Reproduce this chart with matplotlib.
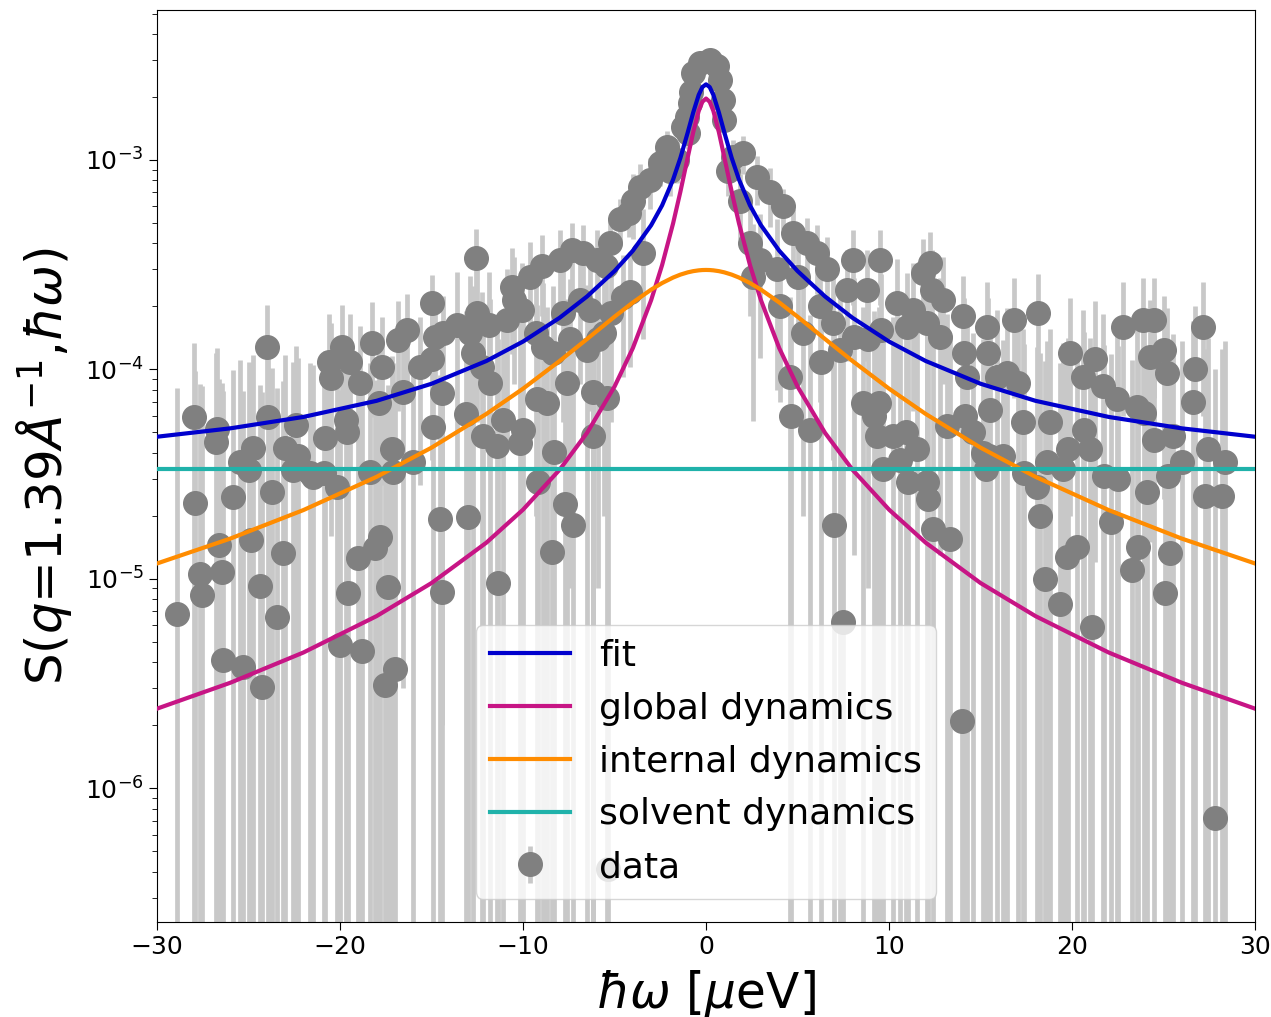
import numpy as np
import matplotlib
matplotlib.use('Agg')
import matplotlib.pyplot as plt

# measured points (energy transfer in micro-eV, S(q,w))
data_x = [-28.9, -28.0, -27.9, -27.65, -27.55, -26.8, -26.7, -26.6, -26.45, -26.4,
          -25.85, -25.45, -25.3, -24.95, -24.85, -24.75, -24.35, -24.25, -24.0, -23.95,
          -23.7, -23.45, -23.1, -23.0, -22.55, -22.4, -22.3, -21.65, -21.5, -20.9,
          -20.8, -20.6, -20.5, -20.15, -20.0, -19.9, -19.65, -19.6, -19.55, -19.45,
          -19.0, -18.9, -18.8, -18.35, -18.25, -18.1, -17.85, -17.8, -17.7, -17.55,
          -17.4, -17.15, -17.1, -17.0, -16.85, -16.55, -16.35, -16.0, -15.65, -15.0,
          -14.95, -14.9, -14.8, -14.55, -14.45, -14.4, -14.35,
          -13.6, -13.1, -13.0, -12.9, -12.75, -12.55, -12.5, -12.25, -12.2, -11.85,
          -11.8, -11.4, -11.35, -11.1, -10.9, -10.6, -10.5, -10.15, -10.05, -10.0,
          -9.6, -9.3, -9.25, -9.2, -8.95, -8.9, -8.7, -8.4, -8.35, -8.3,
          -8.0, -7.8, -7.7, -7.6, -7.45, -7.3, -7.25, -6.9, -6.7, -6.5,
          -6.35, -6.2, -6.15, -5.95, -5.9, -5.6, -5.45, -5.4, -5.35, -5.25,
          -5.2, -4.7, -4.55, -4.2, -4.15, -4.0, -3.6, -3.45, -3.05, -2.5,
          -2.15, -1.95, -1.6, -1.25, -1.05, -1.0, -0.85, -0.8, -0.7, -0.35,
          0.2, 0.6, 0.75, 0.95, 1.0, 1.2, 1.5, 1.85, 2.0, 2.4,
          2.55, 2.8, 2.95, 3.5, 3.9, 4.05, 4.2, 4.6, 4.65, 4.75,
          5.0, 5.3, 5.5, 5.7, 6.05, 6.25, 6.3, 6.6, 6.95, 7.0,
          7.3, 7.5, 7.7, 8.05, 8.1, 8.6, 8.8, 8.85, 9.15, 9.35,
          9.45, 9.5, 9.55, 9.65, 10.2, 10.45, 10.6, 10.95, 11.0, 11.05,
          11.3, 11.55, 11.85, 12.05, 12.1, 12.15, 12.25, 12.35, 12.4, 12.8,
          12.95, 13.15, 13.35, 14.0, 14.05, 14.1, 14.15, 14.25, 14.6, 15.15,
          15.3, 15.35, 15.4, 15.45, 15.5, 15.9, 16.25, 16.45, 16.8, 17.05,
          17.3, 17.35, 18.1, 18.15, 18.25, 18.5, 18.65, 18.8, 19.35, 19.5,
          19.7, 19.75, 19.9, 20.25, 20.6, 20.65, 21.0, 21.1, 21.25, 21.7,
          21.75, 22.1, 22.45, 22.5, 22.8, 23.3, 23.55, 23.6, 23.9, 23.95,
          24.1, 24.25, 24.45, 24.5, 25.0, 25.05, 25.2, 25.25, 25.35, 25.5,
          26.0, 26.6, 26.7, 27.15, 27.25, 27.45, 27.8, 28.2, 28.35]
data_s = [6.8e-6, 5.9e-5, 2.3e-5, 1.05e-5, 8.4e-6, 4.5e-5, 5.2e-5, 1.45e-5, 1.08e-5, 4.1e-6,
          2.45e-5, 3.6e-5, 3.8e-6, 3.3e-5, 1.53e-5, 4.2e-5, 9.2e-6, 3.05e-6, 1.28e-4, 5.9e-5,
          2.6e-5, 6.6e-6, 1.33e-5, 4.2e-5, 3.3e-5, 5.4e-5, 3.85e-5, 3.2e-5, 3.05e-5, 3.2e-5,
          4.7e-5, 1.08e-4, 9.1e-5, 2.75e-5, 4.85e-6, 1.28e-4, 5.75e-5, 5.0e-5, 8.6e-6, 1.08e-4,
          1.26e-5, 8.6e-5, 4.5e-6, 3.25e-5, 1.34e-4, 1.4e-5, 6.9e-5, 1.58e-5, 1.03e-4, 3.1e-6,
          9.1e-6, 4.15e-5, 3.25e-5, 3.7e-6, 1.38e-4, 7.8e-5, 1.55e-4, 3.6e-5, 1.03e-4, 2.08e-4,
          1.12e-4, 5.3e-5, 1.43e-4, 1.93e-5, 7.7e-5, 8.7e-6, 1.5e-4,
          1.63e-4, 6.1e-5, 1.97e-5, 1.5e-4, 1.2e-4, 3.4e-4, 1.86e-4, 1.03e-4, 4.8e-5, 1.63e-4,
          8.6e-5, 4.3e-5, 9.6e-6, 5.75e-5, 1.73e-4, 2.48e-4, 2.15e-4, 4.45e-5, 1.93e-4, 5.15e-5,
          2.77e-4, 1.5e-4, 7.2e-5, 2.9e-5, 3.1e-4, 1.28e-4, 6.9e-5, 1.35e-5, 1.2e-4, 4.05e-5,
          3.33e-4, 1.86e-4, 2.27e-5, 8.6e-5, 1.39e-4, 3.7e-4, 1.8e-5, 2.15e-4, 3.6e-4, 1.24e-4,
          1.93e-4, 7.8e-5, 4.8e-5, 3.33e-4, 1.39e-4, 1.5e-4, 3.1e-4, 7.3e-5, 4.1e-7, 4.0e-4,
          1.86e-4, 5.2e-4, 2.22e-4, 5.6e-4, 2.33e-4, 6.4e-4, 7.4e-4, 3.6e-4, 8.0e-4, 9.7e-4,
          1.15e-3, 8.9e-4, 1.0e-3, 1.44e-3, 1.6e-3, 1.35e-3, 1.87e-3, 2.1e-3, 2.6e-3, 2.9e-3,
          3.0e-3, 2.8e-3, 2.4e-3, 1.93e-3, 1.55e-3, 8.9e-4, 1.03e-3, 6.4e-4, 1.08e-3, 4.0e-4,
          2.77e-4, 8.3e-4, 3.33e-4, 7.0e-4, 3.0e-4, 2.0e-4, 6.0e-4, 9.2e-5, 6.0e-5, 4.5e-4,
          2.77e-4, 1.5e-4, 4.0e-4, 5.15e-5, 3.6e-4, 2.0e-4, 1.08e-4, 3.0e-4, 1.67e-4, 1.8e-5,
          1.24e-4, 6.25e-6, 2.4e-4, 3.33e-4, 1.43e-4, 6.9e-5, 2.4e-4, 1.39e-4, 6.0e-5, 4.8e-5,
          6.9e-5, 3.33e-4, 1.55e-4, 3.33e-5, 4.8e-5, 2.08e-4, 3.7e-5, 5.0e-5, 1.6e-4, 2.9e-5,
          1.93e-4, 4.15e-5, 2.9e-4, 1.67e-4, 2.9e-5, 2.4e-5, 3.23e-4, 2.4e-4, 1.73e-5, 1.43e-4,
          2.15e-4, 5.35e-5, 1.55e-5, 2.1e-6, 1.8e-4, 1.2e-4, 6.0e-5, 9.2e-5, 5.0e-5, 4.0e-5,
          3.33e-5, 1.6e-4, 1.2e-4, 3.85e-5, 6.4e-5, 9.2e-5, 3.85e-5, 9.6e-5, 1.73e-4, 8.6e-5,
          5.6e-5, 3.2e-5, 2.75e-5, 1.86e-4, 2.0e-5, 1.0e-5, 3.6e-5, 5.6e-5, 7.6e-6, 3.33e-5,
          1.27e-5, 4.15e-5, 1.2e-4, 1.42e-5, 9.2e-5, 5.15e-5, 4.15e-5, 5.9e-6, 1.12e-4, 8.3e-5,
          3.1e-5, 1.86e-5, 7.2e-5, 3.0e-5, 1.6e-4, 1.1e-5, 6.6e-5, 1.42e-5, 1.73e-4, 6.2e-5,
          2.6e-5, 1.15e-4, 1.73e-4, 4.6e-5, 1.24e-4, 8.6e-6, 9.6e-5, 3.1e-5, 1.33e-5, 4.8e-5,
          3.6e-5, 7.0e-5, 1.0e-4, 1.6e-4, 2.5e-5, 4.15e-5, 7.2e-7, 2.5e-5, 3.6e-5]

# error bar size per energy band
err_edges = [-14, -4, 4, 14]
err_levels = [7.5e-5, 1.3e-4, 2.2e-4, 1.3e-4, 1.0e-4]

# fitted model curves
curve_x = [-30, -26, -22, -18, -15, -12, -10, -8, -6.5, -5, -4, -3, -2.4, -1.8, -1.4, -1.0,
           -0.7, -0.4, -0.2, 0, 0.2, 0.4, 0.7, 1.0, 1.4, 1.8, 2.4, 3, 4, 5, 6.5, 8, 10,
           12, 15, 18, 22, 26, 30]
fit_s = [4.77e-5, 5.23e-5, 5.93e-5, 7.08e-5, 8.54e-5, 1.097e-4, 1.358e-4, 1.764e-4, 2.23e-4,
         2.948e-4, 3.685e-4, 4.878e-4, 6.069e-4, 8.06e-4, 1.023e-3, 1.353e-3, 1.686e-3,
         2.045e-3, 2.227e-3, 2.296e-3, 2.227e-3, 2.045e-3, 1.686e-3, 1.353e-3, 1.023e-3,
         8.06e-4, 6.069e-4, 4.878e-4, 3.685e-4, 2.948e-4, 2.23e-4, 1.764e-4, 1.358e-4,
         1.097e-4, 8.54e-5, 7.08e-5, 5.93e-5, 5.23e-5, 4.77e-5]
global_s = [2.40e-6, 3.19e-6, 4.45e-6, 6.64e-6, 9.55e-6, 1.489e-5, 2.14e-5, 3.32e-5, 4.98e-5,
            8.28e-5, 1.263e-4, 2.14e-4, 3.15e-4, 4.98e-4, 7.06e-4, 1.029e-3, 1.358e-3,
            1.714e-3, 1.895e-3, 1.964e-3, 1.895e-3, 1.714e-3, 1.358e-3, 1.029e-3, 7.06e-4,
            4.98e-4, 3.15e-4, 2.14e-4, 1.263e-4, 8.28e-5, 4.98e-5, 3.32e-5, 2.14e-5,
            1.489e-5, 9.55e-6, 6.64e-6, 4.45e-6, 3.19e-6, 2.40e-6]
internal_s = [1.184e-5, 1.556e-5, 2.13e-5, 3.07e-5, 4.23e-5, 6.13e-5, 8.09e-5, 1.097e-4,
              1.397e-4, 1.785e-4, 2.087e-4, 2.403e-4, 2.584e-4, 2.745e-4, 2.835e-4,
              2.906e-4, 2.945e-4, 2.971e-4, 2.981e-4, 2.984e-4, 2.981e-4, 2.971e-4,
              2.945e-4, 2.906e-4, 2.835e-4, 2.745e-4, 2.584e-4, 2.403e-4, 2.087e-4,
              1.785e-4, 1.397e-4, 1.097e-4, 8.09e-5, 6.13e-5, 4.23e-5, 3.07e-5, 2.13e-5,
              1.556e-5, 1.184e-5]
solvent_level = 3.35e-5


x = np.array(data_x)
s = np.array(data_s)
yerr = np.array(err_levels)[np.digitize(x, err_edges)]

fig = plt.figure(figsize=(12.71, 10.17), dpi=100)
ax = fig.add_axes([0.1235, 0.0934, 0.864, 0.8968])

eb = ax.errorbar(x, s, yerr=yerr, fmt='o', color='grey', ms=17,
                 ecolor='#c8c8c8', elinewidth=3.4, zorder=2, label='data')
l1, = ax.plot(curve_x, fit_s, color='mediumblue', lw=3, zorder=4, label='fit')
l2, = ax.plot(curve_x, global_s, color='mediumvioletred', lw=3, zorder=4, label='global dynamics')
l3, = ax.plot(curve_x, internal_s, color='darkorange', lw=3, zorder=4, label='internal dynamics')
l4 = ax.axhline(solvent_level, color='lightseagreen', lw=3, zorder=4, label='solvent dynamics')

ax.set_yscale('log')
ax.set_xlim(-30, 30)
ax.set_ylim(2.3e-7, 5.2e-3)
ax.tick_params(labelsize=18, length=6)
ax.tick_params(which='minor', length=3.5)
ax.set_xlabel(r'$\hbar\omega$ [$\mu$eV]', fontsize=35, labelpad=6)
ax.set_ylabel(r'S($q$=1.39$\AA^{-1}$,$\hbar\omega$)', fontsize=36, labelpad=8)

ax.legend(handles=[l1, l2, l3, l4, eb], loc='lower center', fontsize=26,
          handlelength=2.2, labelspacing=0.52, borderaxespad=0.65)

fig.savefig('out.png', dpi=100)
